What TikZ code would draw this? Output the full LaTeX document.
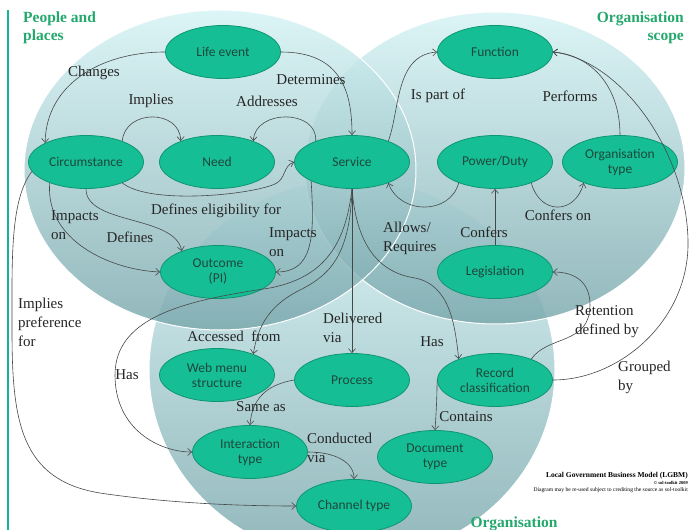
\documentclass[tikz,border=0pt]{standalone}
\usepackage{fontspec}
\setmainfont{Liberation Serif}
\newfontfamily\calibri{Carlito}
\usepackage{tikz}
\usetikzlibrary{shapes.geometric, arrows.meta, positioning}
\definecolor{ovalfill}{RGB}{22,190,150}
\definecolor{ovaldraw}{RGB}{14,150,112}
\definecolor{ovaltext}{RGB}{28,72,58}
\definecolor{zonetop}{RGB}{212,243,245}
\definecolor{zonebot}{RGB}{118,165,170}
\definecolor{zonegreen}{RGB}{36,168,108}
\definecolor{linkgray}{RGB}{70,72,72}
\definecolor{railteal}{RGB}{20,178,150}
\tikzset{
  entity/.style={ellipse, draw=ovaldraw, line width=0.8pt, fill=ovalfill,
                 minimum width=115pt, minimum height=53pt, inner sep=0pt,
                 align=center, text=ovaltext, font=\calibri\fontsize{13.5}{15}\selectfont},
  rel/.style={-{Straight Barb[length=4pt,width=7pt]}, line width=0.6pt, draw=linkgray},
  lbl/.style={inner sep=0pt, align=left, text=black!85, font=\fontsize{15}{19}\selectfont},
  zone/.style={top color=zonetop, bottom color=zonebot, fill opacity=0.8,
               draw=white, line width=1pt},
  zonetitle/.style={inner sep=0pt, text=zonegreen, font=\bfseries\fontsize{15.5}{18}\selectfont}
}

\begin{document}
\begin{tikzpicture}[x=1pt, y=-1pt]
  \useasboundingbox (0,0) rectangle (689,530);
  \clip (0,0) rectangle (689,530);
  \fill[white] (0,0) rectangle (689,530);
  \draw[railteal, line width=1.2pt] (8,10) -- (8,530);

  \path[zone] (352,370) ellipse [x radius=203pt, y radius=190pt];
  \path[zone] (495,168) ellipse [x radius=190pt, y radius=156pt];
  \path[zone] (220,170) ellipse [x radius=196pt, y radius=160pt];

  \node[zonetitle, anchor=north west, align=left] (tpeople) at (23,12) {People and\\places};
  \node[zonetitle, anchor=north east, align=right] (tscope) at (684,12) {Organisation\\scope};
  \node[zonetitle, anchor=north] (torg) at (514,517) {Organisation};

  \node[entity] (life) at (223,52) {Life event};
  \node[entity] (circ) at (86,162) {Circumstance};
  \node[entity] (need) at (217,162) {Need};
  \node[entity] (serv) at (352,162) {Service};
  \node[entity] (outc) at (218,272) {Outcome\\(PI)};
  \node[entity] (func) at (495,52) {Function};
  \node[entity] (powr) at (495,162) {Power/Duty};
  \node[entity] (otyp) at (620,162) {Organisation\\type};
  \node[entity] (legi) at (495,272) {Legislation};
  \node[entity] (webm) at (217,375) {Web menu\\structure};
  \node[entity] (proc) at (352,380) {Process};
  \node[entity] (reco) at (495,380) {Record\\classification};
  \node[entity] (intr) at (250,452) {Interaction\\type};
  \node[entity] (docu) at (435,457) {Document\\type};
  \node[entity] (chan) at (354,506) {Channel type};

  \draw[rel] (life.west) .. controls (100,52) and (46,85) .. (circ.155);
  \draw[rel] (life.east) .. controls (340,52) and (352,90) .. (serv.north);
  \draw[rel] (circ.30) .. controls (125,109) and (180,109) .. (need.150);
  \draw[rel] (serv.150) .. controls (318,109) and (255,109) .. (need.30);
  \draw[rel] (circ.330) .. controls (150,205) and (250,195) .. (275,184)
             .. controls (286,179) and (283,166) .. (serv.west);
  \draw[rel] (circ.south) .. controls (86,225) and (175,215) .. (outc.150);
  \draw[rel] (circ.210) .. controls (45,240) and (110,270) .. (outc.west);
  \draw[rel] (serv.205) .. controls (315,240) and (312,272) .. (outc.east);
  \draw[rel] (serv.south) .. controls (350,255) and (330,275) .. (300,290)
             .. controls (270,305) and (258,325) .. (webm.30);
  \draw[rel] (serv.south) -- (proc.north);
  \draw[rel] (serv.south) .. controls (345,250) and (320,278) .. (270,288)
             .. controls (190,300) and (115,315) .. (115,375)
             .. controls (115,430) and (160,452) .. (intr.west);
  \draw[rel] (serv.south) .. controls (356,240) and (375,272) .. (415,278)
             .. controls (450,285) and (455,325) .. (reco.150);
  \draw[rel] (circ.190) .. controls (10,200) and (12,260) .. (12,330)
             .. controls (12,420) and (20,480) .. (100,493)
             .. controls (180,505) and (260,506) .. (chan.west);
  \draw[rel] (powr.210) .. controls (450,215) and (400,215) .. (serv.330);
  \draw[rel] (serv.30) .. controls (400,110) and (395,55) .. (func.west);
  \draw[rel] (otyp.north) .. controls (620,85) and (590,55) .. (func.east);
  \draw[rel] (powr.330) .. controls (540,215) and (575,215) .. (otyp.210);
  \draw[rel] (legi.north) -- (powr.south);
  \draw[rel] (reco.30) .. controls (548,335) and (590,345) .. (590,305)
             .. controls (590,282) and (575,272) .. (legi.east);
  \draw[rel] (reco.east) .. controls (620,380) and (690,320) .. (688,240)
             .. controls (686,150) and (620,60) .. (func.east);
  \draw[rel] (proc.west) .. controls (265,385) and (252,400) .. (intr.north);
  \draw[rel] (intr.east) .. controls (335,452) and (354,462) .. (chan.north);
  \draw[rel] (reco.west) .. controls (437,400) and (436,415) .. (docu.north);

  \node[lbl] (lchanges) at (94,73) {Changes};
  \node[lbl] (ldeterm) at (311,80) {Determines};
  \node[lbl] (limplies) at (151,101) {Implies};
  \node[lbl] (laddress) at (267,101) {Addresses};
  \node[lbl] (leligib) at (216,211) {Defines eligibility for};
  \node[lbl, anchor=west] (limpacta) at (51,225) {Impacts\\on};
  \node[lbl] (ldefines) at (130,237) {Defines};
  \node[lbl, anchor=west] (limpactb) at (269,242) {Impacts\\on};
  \node[lbl] (lpartof) at (438,96) {Is part of};
  \node[lbl] (lperform) at (570,96) {Performs};
  \node[lbl, anchor=west] (lallows) at (383,238) {Allows/\\Requires};
  \node[lbl] (lconfers) at (484,232) {Confers};
  \node[lbl] (lconfon) at (558,215) {Confers on};
  \node[lbl, anchor=west] (lprefer) at (18,322) {Implies\\preference\\for};
  \node[lbl] (laccess) at (234,336) {Accessed~ from};
  \node[lbl, anchor=west] (ldeliver) at (323,328) {Delivered\\via};
  \node[lbl] (lhasrec) at (432,342) {Has};
  \node[lbl] (lhasint) at (127,375) {Has};
  \node[lbl, anchor=west] (lretain) at (575,322) {Retention\\defined by};
  \node[lbl, anchor=west] (lgroup) at (618,377) {Grouped\\by};
  \node[lbl] (lsameas) at (261,407) {Same as};
  \node[lbl, anchor=west] (lconduct) at (307,448) {Conducted\\via};
  \node[lbl] (lcontain) at (466,417) {Contains};

  \node[anchor=base east, inner sep=0pt, font=\bfseries\fontsize{7.5}{8}\selectfont] (credita) at (688,477)
    {Local Government Business Model (LGBM)};
  \node[anchor=base east, inner sep=0pt, font=\bfseries\fontsize{4.5}{5}\selectfont] (creditb) at (688,484)
    {© sol-toolkit 2009};
  \node[anchor=base east, inner sep=0pt, font=\fontsize{5.6}{6}\selectfont] (creditc) at (688,491)
    {Diagram may be re-used subject to crediting the source as sol-toolkit};
\end{tikzpicture}
\end{document}
